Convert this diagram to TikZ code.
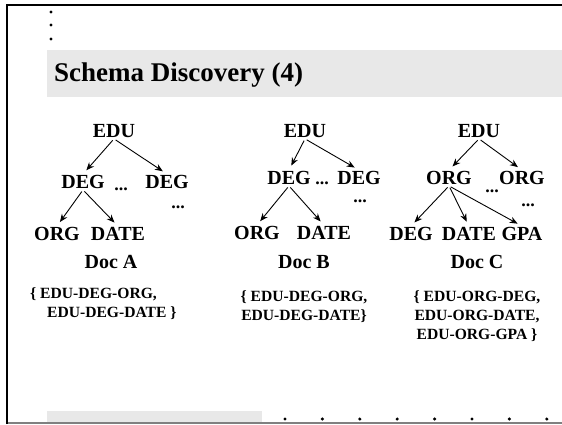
\documentclass[tikz,border=0pt]{standalone}
\usepackage{fontspec}
\setmainfont{Liberation Serif}
\usepackage{tikz}
\usetikzlibrary{arrows.meta}

\tikzset{
  lbl/.style={font=\fontsize{20}{22}\selectfont\bfseries, inner sep=1pt},
  more/.style={font=\fontsize{18}{20}\selectfont\bfseries, inner sep=0pt},
  paths/.style={font=\fontsize{15.6}{19}\selectfont\bfseries, inner sep=0pt},
  link/.style={->, line width=0.9pt, shorten <=2pt, shorten >=5pt},
}

\begin{document}
\begin{tikzpicture}[x=1pt,y=-1pt,>={Stealth[length=8pt,width=6.5pt]}]

    \useasboundingbox (0,0) rectangle (562,424);

    % slide frame and bands
    \fill [gray!18] (47,50) rectangle (562,97);
    \fill [gray!18] (47,411) rectangle (262,423);
    \draw [line width=1.5pt,gray] (6,423) -- (562,423);
    \draw [line width=2pt] (6.5,424) -- (6.5,4.5) -- (562,4.5);

    \foreach \y in {12,25,39}
        \fill (51,\y) circle [radius=1.7];
    \foreach \x in {285,322.4,...,548}
        \fill (\x,419) circle [radius=1.7];

    \node [anchor=west,inner sep=0pt,font=\fontsize{27}{30}\selectfont\bfseries] (title) at (54,75) {Schema Discovery (4)};

    % Doc A
    \node [lbl] (eduA) at (114,131) {EDU};
    \node [lbl] (degA) at (83,182) {DEG};
    \node [more] (moreA) at (121,189) {...};
    \node [lbl] (degAx) at (167,182) {DEG};
    \node [more] (moreAx) at (178,207) {...};
    \node [lbl] (orgA) at (57,234) {ORG};
    \node [lbl] (dateA) at (118,234) {DATE};
    \node [lbl] (docA) at (111,262) {Doc A};
    \node [paths,anchor=west,align=left] (setA) at (30,304) {\{ EDU-DEG-ORG,\\\hspace*{17pt}EDU-DEG-DATE \}};

    \draw [link] (eduA.south) -- (degA.north);
    \draw [link] (eduA.south) -- (degAx.north);
    \draw [link] (degA.south) -- (orgA.north);
    \draw [link] (degA.south) -- (dateA.north);

    % Doc B
    \node [lbl] (eduB) at (305,131) {EDU};
    \node [lbl] (degB) at (289,178) {DEG};
    \node [more] (moreB) at (322,183) {...};
    \node [lbl] (degBx) at (359,178) {DEG};
    \node [more] (moreBx) at (360,201) {...};
    \node [lbl] (orgB) at (257,233) {ORG};
    \node [lbl] (dateB) at (324,233) {DATE};
    \node [lbl] (docB) at (304,262) {Doc B};
    \node [paths,align=center] (setB) at (304,306.5) {\{ EDU-DEG-ORG,\\EDU-DEG-DATE\}};

    \draw [link] (eduB.south) -- (degB.north);
    \draw [link] (eduB.south) -- (degBx.north);
    \draw [link] (degB.south) -- (orgB.north);
    \draw [link] (degB.south) -- (dateB.north);

    % Doc C
    \node [lbl] (eduC) at (479,131) {EDU};
    \node [lbl] (orgC) at (449,178) {ORG};
    \node [more] (moreC) at (492,191) {...};
    \node [lbl] (orgCx) at (522,178) {ORG};
    \node [more] (moreCx) at (528,205) {...};
    \node [lbl] (degC) at (411,234) {DEG};
    \node [lbl] (dateC) at (469,234) {DATE};
    \node [lbl] (gpaC) at (522,234) {GPA};
    \node [lbl] (docC) at (477,262) {Doc C};
    \node [paths,align=center] (setC) at (477,316) {\{ EDU-ORG-DEG,\\EDU-ORG-DATE,\\EDU-ORG-GPA \}};

    \draw [link] (eduC.south) -- (orgC.north);
    \draw [link] (eduC.south) -- (orgCx.north);
    \draw [link] (orgC.south) -- (degC.north);
    \draw [link] (orgC.south) -- (dateC.north);
    \draw [link] (orgC.south) -- (gpaC.north);

\end{tikzpicture}
\end{document}
